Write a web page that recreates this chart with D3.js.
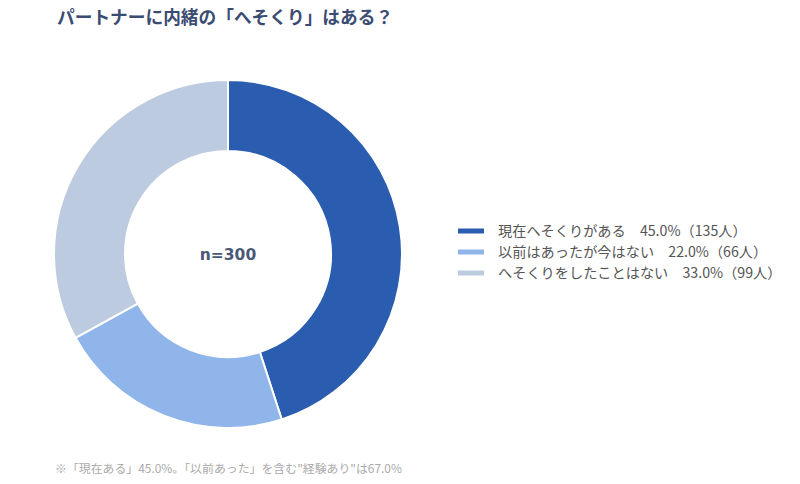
<!DOCTYPE html>
<html>
<head>
<meta charset="utf-8">
<script src="https://cdn.jsdelivr.net/npm/d3@7"></script>
<style>
  body { margin: 0; background: #fff; }
  svg { display: block; }
</style>
</head>
<body>
<div id="chart"></div>
<script>
// Data
const categories = ['現在へそくりがある', '以前はあったが今はない', 'へそくりをしたことはない'];
const percents = [45.0, 22.0, 33.0];
const counts = [135, 66, 99];
const colors = ['#2a5caf', '#8fb5ea', '#bccbe0'];

const titleText = 'パートナーに内緒の「へそくり」はある？';
const centerText = 'n=300';
const noteText = '※「現在ある」45.0%。「以前あった」を含む"経験あり"は67.0%';

const width = 800;
const height = 484;
const font = '"Noto Sans CJK JP", "Noto Sans", sans-serif';

const svg = d3.select('#chart').append('svg')
    .attr('width', width)
    .attr('height', height)
    .attr('viewBox', [0, 0, width, height]);

// Title
svg.append('text')
    .attr('x', 57)
    .attr('y', 24)
    .attr('font-family', font)
    .attr('font-size', 17.7)
    .attr('font-weight', 700)
    .attr('fill', '#3b4c72')
    .text(titleText);

// Donut
const cx = 228, cy = 254;
const outerR = 174, innerR = 103;

const pie = d3.pie().sort(null).value(d => d.value);
const arc = d3.arc().innerRadius(innerR).outerRadius(outerR);

const slices = categories.map((c, i) => ({ name: c, value: percents[i], color: colors[i] }));

const g = svg.append('g').attr('transform', `translate(${cx},${cy})`);

g.selectAll('path')
    .data(pie(slices))
    .join('path')
    .attr('d', arc)
    .attr('fill', d => d.data.color)
    .attr('stroke', '#fff')
    .attr('stroke-width', 2);

// centre label, wide bold face like the reference
g.append('text')
    .attr('text-anchor', 'middle')
    .attr('dy', '0.36em')
    .attr('font-family', '"DejaVu Sans", sans-serif')
    .attr('font-size', 15.5)
    .attr('font-weight', 700)
    .attr('fill', '#4a5878')
    .text(centerText);

// Legend
const legendY = d3.scalePoint().domain(categories).range([231, 273]);

const legend = svg.append('g');
const item = legend.selectAll('g')
    .data(slices)
    .join('g')
    .attr('transform', d => `translate(458,${legendY(d.name)})`);

item.append('rect')
    .attr('x', 0)
    .attr('y', -2.5)
    .attr('width', 26)
    .attr('height', 5)
    .attr('fill', d => d.color);

item.append('text')
    .attr('x', 40)
    .attr('dy', '0.35em')
    .attr('font-family', font)
    .attr('font-size', 14.2)
    .attr('fill', '#555')
    .text((d, i) => `${d.name}　${percents[i].toFixed(1)}%（${counts[i]}人）`);

// Footnote
svg.append('text')
    .attr('x', 55)
    .attr('y', 473)
    .attr('font-family', font)
    .attr('font-size', 11.9)
    .attr('fill', '#aaa')
    .text(noteText);
</script>
</body>
</html>
